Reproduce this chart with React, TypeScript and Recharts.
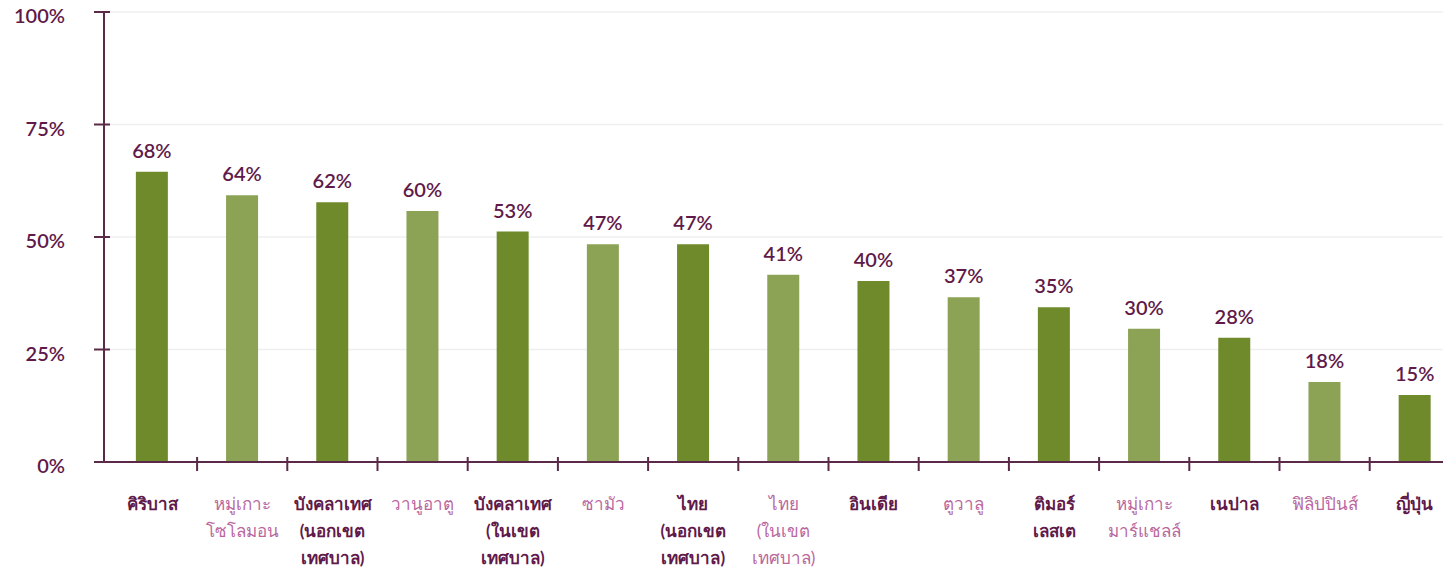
import React from "react";
import { BarChart, Bar, XAxis, YAxis, CartesianGrid, Cell, LabelList } from "recharts";

// Countries / areas (each entry is split into display lines)
const categories: string[][] = [
  ["คิริบาส"],
  ["หมู่เกาะ", "โซโลมอน"],
  ["บังคลาเทศ", "(นอกเขต", "เทศบาล)"],
  ["วานูอาตู"],
  ["บังคลาเทศ", "(ในเขต", "เทศบาล)"],
  ["ซามัว"],
  ["ไทย", "(นอกเขต", "เทศบาล)"],
  ["ไทย", "(ในเขต", "เทศบาล)"],
  ["อินเดีย"],
  ["ตูวาลู"],
  ["ติมอร์", "เลสเต"],
  ["หมู่เกาะ", "มาร์แชลล์"],
  ["เนปาล"],
  ["ฟิลิปปินส์"],
  ["ญี่ปุ่น"],
];

// Bar heights as drawn in the picture (%)
const barValues = [64.5, 59.3, 57.7, 55.8, 51.2, 48.4, 48.4, 41.6, 40.2, 36.6, 34.4, 29.6, 27.6, 17.8, 14.9];

// Value labels printed above each bar
const valueLabels = ["68%", "64%", "62%", "60%", "53%", "47%", "47%", "41%", "40%", "37%", "35%", "30%", "28%", "18%", "15%"];

const yTicks = [0, 25, 50, 75, 100];

const DARK_GREEN = "#6f8a2b";
const LIGHT_GREEN = "#8ca355";
const DARK_PURPLE = "#5f1a4a";
const LIGHT_PURPLE = "#b9679e";
const AXIS = "#5a2a48";

const data = categories.map((lines, i) => ({
  name: lines.join(" "),
  lines,
  value: barValues[i],
  label: valueLabels[i],
}));

const FONT = "Lato, 'Noto Sans', sans-serif";
const BAND = 90;

function YTick(props: { x?: number; y?: number; payload?: { value: number } }) {
  const { x = 0, y = 0, payload } = props;
  return (
    <g>
      <line x1={x - 10} x2={x + 6} y1={y} y2={y} stroke={AXIS} strokeWidth={2} />
      <text
        x={x - 39}
        y={y + 3}
        textAnchor="end"
        dominantBaseline="central"
        fill={DARK_PURPLE}
        fontFamily={FONT}
        fontSize={20}
        fontWeight={600}
      >
        {payload?.value}%
      </text>
    </g>
  );
}

function XTick(props: { x?: number; y?: number; index?: number }) {
  const { x = 0, y = 0, index = 0 } = props;
  const item = data[index];
  const dark = index % 2 === 0;
  return (
    <g>
      {/* boundary tick on the right edge of the category */}
      <line x1={x + BAND / 2} x2={x + BAND / 2} y1={y - 5} y2={y + 9} stroke={AXIS} strokeWidth={2} />
      <text
        x={x}
        y={y + 41}
        textAnchor="middle"
        dominantBaseline="central"
        fill={dark ? DARK_PURPLE : LIGHT_PURPLE}
        fontFamily={FONT}
        fontSize={17}
        fontWeight={dark ? 700 : 400}
      >
        {item?.lines.map((line, i) => (
          <tspan key={i} x={x} dy={i === 0 ? 0 : 27}>
            {line}
          </tspan>
        ))}
      </text>
    </g>
  );
}

export default function App() {
  return (
    <div
      style={{
        position: "absolute",
        left: 0,
        top: 0,
        width: 1443,
        height: 567,
        overflow: "hidden",
        background: "#fff",
      }}
    >
      <BarChart
        width={1470}
        height={567}
        data={data}
        margin={{ top: 12, right: 10, left: 0, bottom: 0 }}
        barCategoryGap="32%"
      >
        <CartesianGrid vertical={false} stroke="#efefef" strokeWidth={1.5} />
        <YAxis
          type="number"
          domain={[0, 100]}
          ticks={yTicks}
          width={104}
          tickSize={0}
          tickMargin={0}
          tickLine={false}
          axisLine={{ stroke: AXIS, strokeWidth: 2 }}
          tick={<YTick />}
          interval={0}
        />
        <XAxis
          dataKey="name"
          height={105}
          padding={{ left: 3, right: 0 }}
          tickSize={0}
          tickMargin={0}
          tickLine={false}
          axisLine={{ stroke: AXIS, strokeWidth: 2 }}
          tick={<XTick />}
          interval={0}
        />
        <Bar dataKey="value" isAnimationActive={false}>
          {data.map((_, i) => (
            <Cell key={i} fill={i % 2 === 0 ? DARK_GREEN : LIGHT_GREEN} />
          ))}
          <LabelList
            dataKey="label"
            position="top"
            offset={14}
            fill={DARK_PURPLE}
            fontFamily={FONT}
            fontSize={20}
            fontWeight={600}
          />
        </Bar>
      </BarChart>
    </div>
  );
}
